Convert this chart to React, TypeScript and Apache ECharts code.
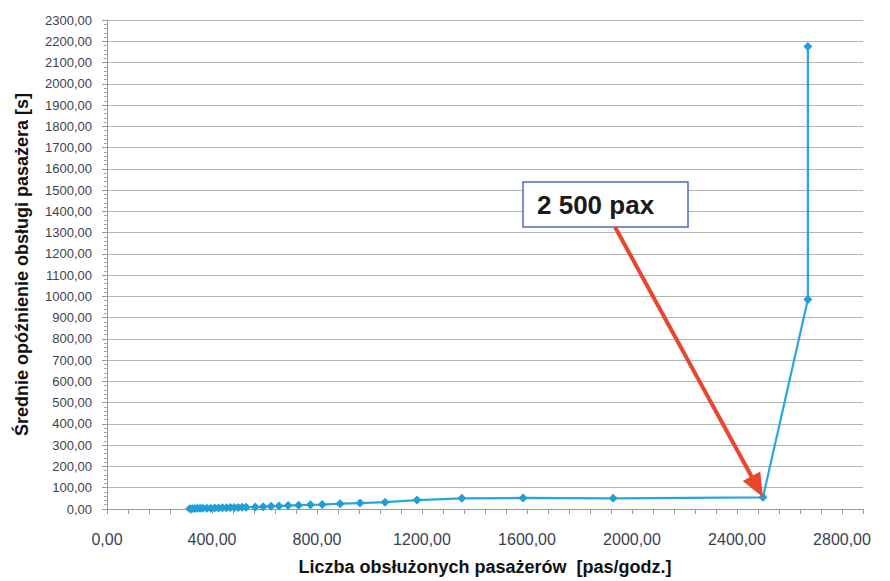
import React, { useEffect, useRef } from "react";
import * as echarts from "echarts";

// passengers served [pas/godz.]
const passengers = [
  315, 325, 335, 345, 355, 365, 380, 395, 410, 425, 440, 455, 470, 485, 500, 515, 530,
  565, 595, 625, 655, 690, 730, 775, 820, 888, 964, 1059, 1181, 1352, 1585, 1928, 2499, 2670, 2670,
];
// mean delay [s]
const delays = [
  1.5, 2, 2.5, 3, 3, 3.5, 4, 4, 5, 5, 5.5, 6, 6.5, 7, 7, 8, 8.5,
  9, 11, 13, 14, 16, 18, 20, 21, 25, 28, 32, 42, 50, 52, 50, 55, 985, 2175,
];
const annotationText = "2 500 pax";
const annotationPoint = [2499, 55];
const xTitle = "Liczba obsłużonych pasażerów  [pas/godz.]";
const yTitle = "Średnie opóźnienie obsługi pasażera [s]";

const fmt = (v: number) => v.toFixed(2).replace(".", ",");

export default function App() {
  const ref = useRef<HTMLDivElement>(null);
  useEffect(() => {
    if (!ref.current) return;
    const chart = echarts.init(ref.current, null, { renderer: "svg" });
    const data = passengers.map((x, i) => [x, delays[i]]);
    chart.setOption({
      animation: false,
      backgroundColor: "#ffffff",
      grid: { left: 107, right: 27, top: 20, bottom: 72, containLabel: false, outerBoundsMode: "none" },
      xAxis: {
        type: "value",
        min: 0,
        max: 2880,
        interval: 80,
        name: xTitle,
        nameLocation: "middle",
        nameGap: 49,
        nameTextStyle: { fontSize: 18, fontWeight: "bold", color: "#111", fontFamily: "Liberation Sans, Arial, sans-serif" },
        axisLine: { lineStyle: { color: "#9a9a9a", width: 1 } },
        axisTick: { show: true, length: 5, lineStyle: { color: "#9a9a9a" } },
        splitLine: { show: false },
        axisLabel: {
          margin: 22,
          fontSize: 16,
          color: "#3b3f52",
          fontFamily: "Liberation Sans Narrow, Liberation Sans, Arial, sans-serif",
          formatter: (v: number) => (v % 400 === 0 ? fmt(v) : ""),
        },
      },
      yAxis: {
        type: "value",
        min: 0,
        max: 2300,
        interval: 100,
        name: yTitle,
        nameLocation: "middle",
        nameGap: 76,
        nameRotate: 90,
        nameTextStyle: { fontSize: 18, fontWeight: "bold", color: "#111", fontFamily: "Liberation Sans, Arial, sans-serif" },
        axisLine: { show: true, lineStyle: { color: "#9a9a9a", width: 1 } },
        axisTick: { show: true, length: 5, lineStyle: { color: "#9a9a9a" } },
        minorTick: { show: true, splitNumber: 5, length: 3, lineStyle: { color: "#a8a8a8" } },
        splitLine: { show: true, lineStyle: { color: "#b4b4b4", width: 1.2 } },
        axisLabel: {
          margin: 15,
          fontSize: 13,
          color: "#3b3f52",
          fontFamily: "Liberation Sans Narrow, Liberation Sans, Arial, sans-serif",
          formatter: (v: number) => fmt(v),
        },
      },
      series: [
        {
          type: "line",
          data,
          symbol: "diamond",
          symbolSize: 9,
          showSymbol: true,
          itemStyle: { color: "#1e9fd9" },
          lineStyle: { color: "#2aa6de", width: 2.2 },
        },
      ],
    });

    const tip = chart.convertToPixel({ xAxisIndex: 0, yAxisIndex: 0 }, annotationPoint) as number[];
    const box = { x: 523, y: 182, w: 165, h: 45 };
    const start = [615, box.y + box.h];
    const dx = tip[0] - start[0];
    const dy = tip[1] - start[1];
    const len = Math.sqrt(dx * dx + dy * dy);
    const ux = dx / len;
    const uy = dy / len;
    const headLen = 24;
    const headW = 10;
    const bx = tip[0] - ux * headLen;
    const by = tip[1] - uy * headLen;
    const px = -uy;
    const py = ux;

    chart.setOption({
      graphic: [
        {
          type: "rect",
          shape: { x: box.x, y: box.y, width: box.w, height: box.h },
          style: { fill: "#ffffff", stroke: "#5468c4", lineWidth: 1.5 },
          z: 100,
        },
        {
          type: "text",
          x: 537,
          y: box.y + box.h / 2,
          style: {
            text: annotationText,
            font: "bold 26px Liberation Sans, Arial, sans-serif",
            fill: "#1a1a1a",
            verticalAlign: "middle",
            align: "left",
          },
          z: 101,
        },
        {
          type: "line",
          shape: { x1: start[0], y1: start[1], x2: bx + ux * 2, y2: by + uy * 2 },
          style: { stroke: "#e8472d", lineWidth: 4 },
          z: 100,
        },
        {
          type: "polygon",
          shape: {
            points: [
              [tip[0], tip[1]],
              [bx + px * headW, by + py * headW],
              [bx - px * headW, by - py * headW],
            ],
          },
          style: { fill: "#e8472d" },
          z: 100,
        },
      ],
    });

    return () => chart.dispose();
  }, []);
  return (
    <div
      ref={ref}
      style={{ position: "absolute", left: 0, top: 0, width: 890, height: 581 }}
    />
  );
}
